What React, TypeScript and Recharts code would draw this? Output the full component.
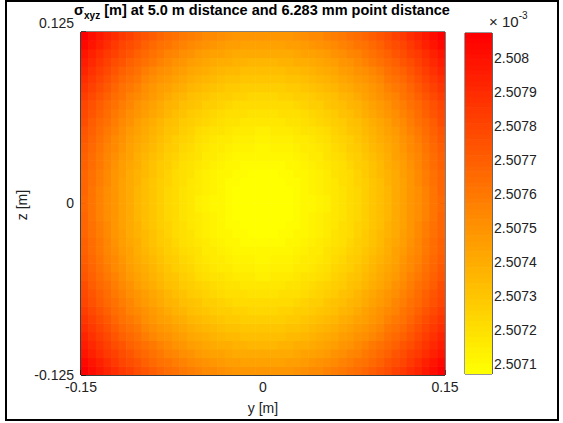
import React from 'react';
import { ScatterChart, Scatter, XAxis, YAxis, ReferenceLine } from 'recharts';

const FONT = '"Liberation Sans", Arial, Helvetica, sans-serif';

// axis ticks
const yTicks = [-0.15, 0, 0.15];
const zTicks = [-0.125, 0, 0.125];
const colorTicks = [2.5071, 2.5072, 2.5073, 2.5074, 2.5075, 2.5076, 2.5077, 2.5078, 2.5079, 2.508];

// grid
const yStart = -0.15;
const zStart = -0.125;
const cellSize = 0.00625;

// sigma_xyz (x10^-3 m) along the row z = 0, left to right (48 cells)
const sigmaAlongY = [
  2.507665, 2.507616, 2.507568, 2.507523, 2.50748, 2.507439, 2.5074, 2.507363,
  2.507329, 2.507297, 2.507266, 2.507238, 2.507213, 2.507189, 2.507167, 2.507148,
  2.507131, 2.507116, 2.507103, 2.507092, 2.507083, 2.507077, 2.507072, 2.50707,
  2.50707, 2.507072, 2.507077, 2.507083, 2.507092, 2.507103, 2.507116, 2.507131,
  2.507148, 2.507167, 2.507189, 2.507213, 2.507238, 2.507266, 2.507297, 2.507329,
  2.507363, 2.5074, 2.507439, 2.50748, 2.507523, 2.507568, 2.507616, 2.507665,
];

// sigma_xyz (x10^-3 m) along the column y = 0, bottom to top (40 cells)
const sigmaAlongZ = [
  2.50748, 2.507439, 2.5074, 2.507363, 2.507329, 2.507297, 2.507266, 2.507238,
  2.507213, 2.507189, 2.507167, 2.507148, 2.507131, 2.507116, 2.507103, 2.507092,
  2.507083, 2.507077, 2.507072, 2.50707, 2.50707, 2.507072, 2.507077, 2.507083,
  2.507092, 2.507103, 2.507116, 2.507131, 2.507148, 2.507167, 2.507189, 2.507213,
  2.507238, 2.507266, 2.507297, 2.507329, 2.507363, 2.5074, 2.507439, 2.50748,
];

const sigmaCenter = 2.50707;
const colorMin = 2.50707;
const colorMax = 2.508075;
const LEVELS = 64;

// layout of the main plot
const W = 563;
const H = 423;
const M_MAIN = { top: 32, right: 118, bottom: 18, left: 11 };
const X_AXIS_H = 30;
const Y_AXIS_W = 70;
const PLOT_W = W - M_MAIN.left - M_MAIN.right - Y_AXIS_W;
const PLOT_H = H - M_MAIN.top - M_MAIN.bottom - X_AXIS_H;
const CELL_W = PLOT_W / sigmaAlongY.length;
const CELL_H = PLOT_H / sigmaAlongZ.length;

// layout of the colorbar
const M_CB = { top: 33, right: 11, bottom: 49, left: 465 };
const CB_AXIS_W = 60;
const CB_W = W - M_CB.left - M_CB.right - CB_AXIS_W;
const CB_H = H - M_CB.top - M_CB.bottom;

// flipped "autumn" colormap: yellow (low) -> red (high)
const levelColor = (idx: number) => {
  const g = Math.round(255 * (1 - idx / (LEVELS - 1)));
  return `rgb(255,${g},0)`;
};
const valueColor = (v: number) => {
  let t = (v - colorMin) / (colorMax - colorMin);
  t = Math.max(0, Math.min(1, t));
  const idx = Math.min(LEVELS - 1, Math.floor(t * LEVELS));
  return levelColor(idx);
};

type Cell = { y: number; z: number; v: number; color: string };
const cells: Cell[] = [];
sigmaAlongY.forEach((sy, i) => {
  sigmaAlongZ.forEach((sz, j) => {
    const v = sy + sz - sigmaCenter;
    cells.push({
      y: yStart + (i + 0.5) * cellSize,
      z: zStart + (j + 0.5) * cellSize,
      v,
      color: valueColor(v),
    });
  });
});

const cbLevels = Array.from({ length: LEVELS }, (_, k) => ({
  x: 0.5,
  c: colorMin + ((k + 0.5) * (colorMax - colorMin)) / LEVELS,
  color: levelColor(k),
}));

const tickStyle = { fill: '#222', fontSize: 14, fontFamily: FONT };

const ZTick = (props: any) => {
  const { x, y, payload } = props;
  const shift = payload.value === 0.125 ? -9 : 0;
  return (
    <text x={x} y={y + shift} dy="0.355em" textAnchor="end" fill="#222" fontSize={14} fontFamily={FONT}>
      {String(payload.value)}
    </text>
  );
};

const CellShape = (props: any) => {
  const { cx, cy, payload } = props;
  return (
    <rect
      x={cx - CELL_W / 2 - 0.3}
      y={cy - CELL_H / 2 - 0.3}
      width={CELL_W + 0.6}
      height={CELL_H + 0.6}
      fill={payload.color}
    />
  );
};

const LevelShape = (props: any) => {
  const { cx, cy, payload } = props;
  const h = CB_H / LEVELS;
  return <rect x={cx - CB_W / 2} y={cy - h / 2 - 0.3} width={CB_W} height={h + 0.6} fill={payload.color} />;
};

const fmtColor = (v: number) => String(Number(v.toFixed(4)));

const tickLenX = 0.3 * (5 / PLOT_W);
const tickLenZ = 0.25 * (5 / PLOT_H);
const cbTickLen = 4 / CB_W;

export default function App() {
  return (
    <div style={{ position: 'absolute', left: 0, top: 0, width: W, height: H, background: '#fff', overflow: 'hidden' }}>
      <div style={{ position: 'absolute', left: 0, top: 0 }}>
        <ScatterChart width={W} height={H} margin={M_MAIN}>
          <XAxis
            dataKey="y"
            type="number"
            domain={[-0.15, 0.15]}
            ticks={yTicks}
            interval={0}
            allowDataOverflow
            tickSize={-5}
            tickMargin={12}
            height={X_AXIS_H}
            stroke="#000"
            tick={tickStyle}
            tickFormatter={(v: number) => String(v)}
          />
          <YAxis
            dataKey="z"
            type="number"
            domain={[-0.125, 0.125]}
            ticks={zTicks}
            interval={0}
            allowDataOverflow
            tickSize={-5}
            tickMargin={12}
            width={Y_AXIS_W}
            stroke="#000"
            tick={<ZTick />}
          />
          <Scatter data={cells} shape={<CellShape />} isAnimationActive={false} />
          <ReferenceLine y={0.125} stroke="#000" ifOverflow="visible" />
          <ReferenceLine x={0.15} stroke="#000" ifOverflow="visible" />
          <ReferenceLine y={-0.125} stroke="#000" ifOverflow="visible" />
          <ReferenceLine x={-0.15} stroke="#000" ifOverflow="visible" />
          <ReferenceLine
            segment={[{ x: 0, y: 0.125 }, { x: 0, y: 0.125 - tickLenZ }]}
            stroke="#000"
            ifOverflow="visible"
          />
          <ReferenceLine
            segment={[{ x: 0, y: -0.125 }, { x: 0, y: -0.125 + tickLenZ }]}
            stroke="#000"
            ifOverflow="visible"
          />
          <ReferenceLine
            segment={[{ x: 0.15, y: 0 }, { x: 0.15 - tickLenX, y: 0 }]}
            stroke="#000"
            ifOverflow="visible"
          />
          <ReferenceLine
            segment={[{ x: -0.15, y: 0 }, { x: -0.15 + tickLenX, y: 0 }]}
            stroke="#000"
            ifOverflow="visible"
          />
        </ScatterChart>
      </div>

      <div style={{ position: 'absolute', left: 0, top: 0 }}>
        <ScatterChart width={W} height={H} margin={M_CB}>
          <XAxis dataKey="x" type="number" domain={[0, 1]} allowDataOverflow hide />
          <YAxis
            dataKey="c"
            orientation="right"
            type="number"
            domain={[colorMin, colorMax]}
            ticks={colorTicks}
            interval={0}
            allowDataOverflow
            tickSize={-4}
            tickMargin={6}
            width={CB_AXIS_W}
            stroke="#333"
            tick={tickStyle}
            tickFormatter={fmtColor}
          />
          <Scatter data={cbLevels} shape={<LevelShape />} isAnimationActive={false} />
          <ReferenceLine x={0} stroke="#333" ifOverflow="visible" />
          <ReferenceLine x={1} stroke="#333" ifOverflow="visible" />
          <ReferenceLine y={colorMin} stroke="#333" ifOverflow="visible" />
          <ReferenceLine y={colorMax} stroke="#333" ifOverflow="visible" />
          {colorTicks.map((t) => (
            <ReferenceLine
              key={t}
              segment={[{ x: 0, y: t }, { x: cbTickLen, y: t }]}
              stroke="#333"
              ifOverflow="visible"
            />
          ))}
        </ScatterChart>
      </div>

      <svg width={W} height={H} style={{ position: 'absolute', left: 0, top: 0, pointerEvents: 'none' }}>
        <rect x={6} y={1} width={552} height={419} fill="none" stroke="#000" strokeWidth={2} />
        <text x={262} y={15} textAnchor="middle" fontFamily={FONT} fontWeight="bold" fontSize={14.5} fill="#000">
          σ
          <tspan fontSize={10} dy={4}>xyz</tspan>
          <tspan dy={-4}> [m] at 5.0 m distance and 6.283 mm point distance</tspan>
        </text>
        <text x={263} y={413} textAnchor="middle" fontFamily={FONT} fontSize={14} fill="#222">
          y [m]
        </text>
        <text
          x={26.5}
          y={205}
          textAnchor="middle"
          fontFamily={FONT}
          fontSize={14}
          fill="#222"
          transform="rotate(-90 26.5 205)"
        >
          z [m]
        </text>
        <text x={489} y={27} fontFamily={FONT} fontSize={15} fill="#222">
          × 10
          <tspan fontSize={10} dy={-8}>-3</tspan>
        </text>
      </svg>
    </div>
  );
}
